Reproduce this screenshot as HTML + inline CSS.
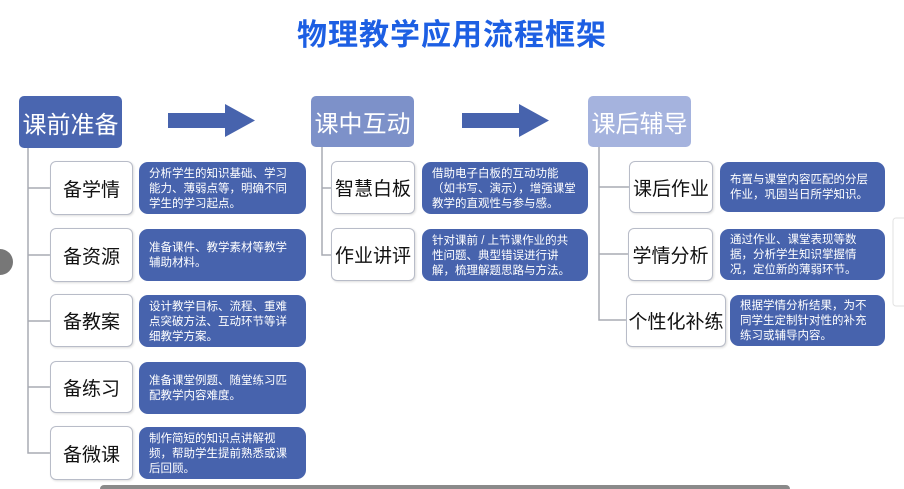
<!DOCTYPE html>
<html><head><meta charset="utf-8"><style>
body{margin:0;width:904px;height:489px;background:#fff;position:relative;overflow:hidden;font-family:"Liberation Sans","Noto Sans CJK SC",sans-serif}
.a{position:absolute;box-sizing:border-box}
.t{left:0;width:904px;top:10px;text-align:center;font-size:30px;font-weight:bold;color:#1d5fe3;letter-spacing:1px}
.h{color:#fff;font-size:24px;display:flex;align-items:center;justify-content:center;border-radius:5px;white-space:nowrap}
.s{background:#fff;border:1px solid #b8bcc8;border-radius:6px;display:flex;align-items:center;justify-content:center;font-size:19px;color:#111;box-shadow:1px 1px 2px #ddd;white-space:nowrap}
.d{background:#4763ad;border-radius:9px;color:#fff;font-size:11.5px;line-height:15px;padding:2px 9px 0 10px;display:flex;align-items:center}
</style></head><body>
<div class="a t">物理教学应用流程框架</div>

<div class="a h" style="left:19px;top:96px;width:103px;height:52px;background:#4a66b0">课前准备</div>
<div class="a h" style="left:311px;top:96px;width:103px;height:51px;background:#7d91c9">课中互动</div>
<div class="a h" style="left:588px;top:96px;width:103px;height:51px;background:#a5b3de">课后辅导</div>

<svg class="a" style="left:0;top:0" width="904" height="489">
<polygon points="168,113 225,113 225,104 255,120.5 225,137 225,128 168,128" fill="#4763ad"/>
<polygon points="462,113 519,113 519,104 549,120.5 519,137 519,128 462,128" fill="#4763ad"/>
<g stroke="#a8abb4" stroke-width="1.5" fill="none">
<path d="M28 148 V453 H50 M28 188 H50 M28 255 H50 M28 321 H50 M28 387 H50"/>
<path d="M322 147 V255 H331 M322 188 H331"/>
<path d="M599 147 V320 H626 M599 187 H629 M599 254 H628"/>
</g>
<circle cx="0" cy="262" r="13" fill="#777"/>
<rect x="100" y="485" width="690" height="8" rx="4" fill="#8a8a8a"/>
<rect x="893" y="218" width="14" height="88" rx="3" fill="#fff" stroke="#e2e2e2"/>
</svg>

<div class="a s" style="left:50px;top:161px;width:83px;height:54px">备学情</div>
<div class="a d" style="left:139px;top:162px;width:167px;height:52px">分析学生的知识基础、学习能力、薄弱点等，明确不同学生的学习起点。</div>
<div class="a s" style="left:50px;top:228px;width:83px;height:54px">备资源</div>
<div class="a d" style="left:139px;top:229px;width:167px;height:52px">准备课件、教学素材等教学辅助材料。</div>
<div class="a s" style="left:50px;top:294px;width:83px;height:53px">备教案</div>
<div class="a d" style="left:139px;top:295px;width:167px;height:52px">设计教学目标、流程、重难点突破方法、互动环节等详细教学方案。</div>
<div class="a s" style="left:50px;top:361px;width:83px;height:52px">备练习</div>
<div class="a d" style="left:139px;top:362px;width:167px;height:52px">准备课堂例题、随堂练习匹配教学内容难度。</div>
<div class="a s" style="left:50px;top:426px;width:83px;height:54px">备微课</div>
<div class="a d" style="left:139px;top:427px;width:167px;height:52px">制作简短的知识点讲解视频，帮助学生提前熟悉或课后回顾。</div>

<div class="a s" style="left:331px;top:161px;width:84px;height:53px">智慧白板</div>
<div class="a d" style="left:422px;top:162px;width:166px;height:52px">借助电子白板的互动功能（如书写、演示），增强课堂教学的直观性与参与感。</div>
<div class="a s" style="left:331px;top:228px;width:84px;height:53px">作业讲评</div>
<div class="a d" style="left:422px;top:229px;width:166px;height:52px">针对课前 / 上节课作业的共性问题、典型错误进行讲解，梳理解题思路与方法。</div>

<div class="a s" style="left:629px;top:161px;width:84px;height:52px">课后作业</div>
<div class="a d" style="left:720px;top:162px;width:165px;height:50px">布置与课堂内容匹配的分层作业，巩固当日所学知识。</div>
<div class="a s" style="left:628px;top:228px;width:85px;height:53px">学情分析</div>
<div class="a d" style="left:720px;top:229px;width:165px;height:51px">通过作业、课堂表现等数据，分析学生知识掌握情况，定位新的薄弱环节。</div>
<div class="a s" style="left:626px;top:294px;width:100px;height:53px">个性化补练</div>
<div class="a d" style="left:730px;top:295px;width:155px;height:51px">根据学情分析结果，为不同学生定制针对性的补充练习或辅导内容。</div>
</body></html>
